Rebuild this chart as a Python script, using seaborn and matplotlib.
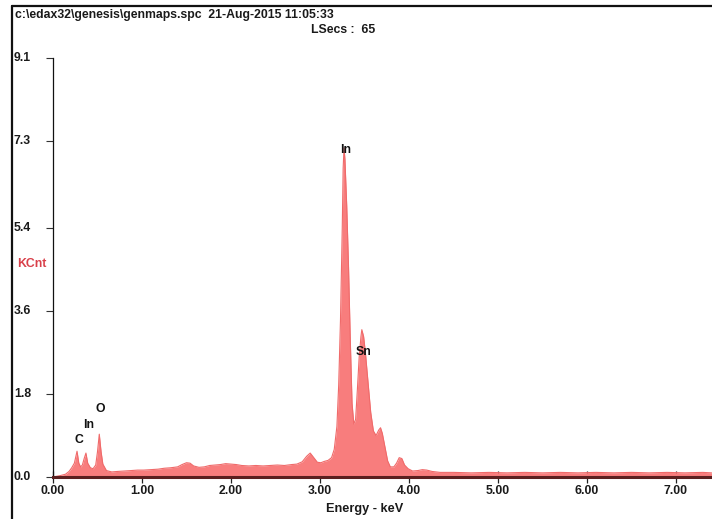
import matplotlib
matplotlib.use("Agg")
import matplotlib.pyplot as plt
import matplotlib.transforms as mtransforms
import seaborn as sns
import pandas as pd
from matplotlib.lines import Line2D

# ---- data ----
energy_kev = [0.00, 0.08, 0.14, 0.18, 0.21, 0.24, 0.27, 0.29, 0.31, 0.33, 0.35, 0.37, 0.39,
              0.42, 0.45, 0.48, 0.50, 0.52, 0.54, 0.56, 0.60, 0.66, 0.72, 0.80, 0.88, 0.95,
              1.02, 1.10, 1.18, 1.25, 1.32, 1.40, 1.45, 1.50, 1.54, 1.58, 1.64, 1.70, 1.76,
              1.82, 1.88, 1.94, 2.00, 2.06, 2.12, 2.20, 2.28, 2.36, 2.44, 2.52, 2.60, 2.68,
              2.74, 2.80, 2.85, 2.89, 2.93, 2.97, 3.01, 3.05, 3.09, 3.13, 3.16, 3.19, 3.21,
              3.23, 3.25, 3.26, 3.27, 3.28, 3.30, 3.32, 3.34, 3.36, 3.38, 3.40, 3.42, 3.44,
              3.46, 3.47, 3.49, 3.51, 3.54, 3.57, 3.60, 3.63, 3.66, 3.68, 3.70, 3.73, 3.76,
              3.79, 3.83, 3.86, 3.89, 3.92, 3.95, 3.99, 4.04, 4.10, 4.15, 4.20, 4.26, 4.35,
              4.50, 4.70, 4.90, 5.10, 5.30, 5.50, 5.70, 5.90, 6.10, 6.30, 6.50, 6.70, 6.90,
              7.10, 7.30, 7.40]
counts_kcnt = [0.00, 0.03, 0.06, 0.12, 0.20, 0.30, 0.56, 0.30, 0.22, 0.26, 0.40, 0.52, 0.30,
               0.20, 0.18, 0.26, 0.55, 0.93, 0.55, 0.28, 0.14, 0.11, 0.12, 0.13, 0.14, 0.15,
               0.15, 0.16, 0.17, 0.19, 0.20, 0.22, 0.27, 0.31, 0.30, 0.24, 0.21, 0.22, 0.25,
               0.26, 0.27, 0.29, 0.28, 0.27, 0.25, 0.24, 0.25, 0.24, 0.25, 0.26, 0.25, 0.27,
               0.28, 0.33, 0.45, 0.52, 0.42, 0.32, 0.31, 0.34, 0.36, 0.42, 0.60, 1.10, 2.00,
               3.40, 5.40, 6.70, 7.15, 6.90, 5.90, 4.60, 3.00, 1.60, 1.15, 1.25, 1.90, 2.60,
               3.05, 3.20, 3.05, 2.70, 2.05, 1.40, 1.00, 0.90, 1.02, 1.07, 0.95, 0.65, 0.35,
               0.22, 0.22, 0.30, 0.42, 0.40, 0.26, 0.18, 0.13, 0.14, 0.16, 0.15, 0.12, 0.10,
               0.10, 0.09, 0.10, 0.09, 0.10, 0.09, 0.10, 0.09, 0.10, 0.09, 0.10, 0.09, 0.10,
               0.09, 0.10, 0.09]
peak_labels = ["C", "In", "O", "In", "Sn"]
label_energy = [0.29, 0.40, 0.53, 3.29, 3.49]
label_height = [0.80, 1.13, 1.48, 7.10, 2.72]
y_ticks = [0.0, 1.8, 3.6, 5.4, 7.3, 9.1]
y_ticklabels = ["0.0", "1.8", "3.6", "5.4", "7.3", "9.1"]
x_ticks = [0, 1, 2, 3, 4, 5, 6, 7]
x_ticklabels = ["0.00", "1.00", "2.00", "3.00", "4.00", "5.00", "6.00", "7.00"]

df = pd.DataFrame({"Energy": energy_kev, "Counts": counts_kcnt})

sns.set_style("white")
plt.rcParams["font.family"] = ["Liberation Sans", "DejaVu Sans"]
plt.rcParams["font.weight"] = "bold"

FS = 8.8
TXT = "#1a1a1a"
W, H = 712, 519
fig = plt.figure(figsize=(W / 100, H / 100), dpi=100)
ax = fig.add_axes([53 / W, (H - 477) / H, (W - 53) / W, (477 - 58) / H])

fill_col = "#f87d7d"
ax.fill_between(df["Energy"], 0, df["Counts"], color=fill_col, linewidth=0, zorder=2)
sns.lineplot(data=df, x="Energy", y="Counts", ax=ax, color="#f06a6a", linewidth=0.8,
             zorder=3, estimator=None, sort=False)

ax.set_xlim(0, (W - 53) / 89.0)
ax.set_ylim(0, 9.1)

# y ticks: marks on the axis, labels placed at the left of the figure
ax.set_yticks(y_ticks)
ax.set_yticklabels([])
ax.tick_params(axis="y", direction="out", length=5, width=0.8, color="#333333", left=True)
ytrans = mtransforms.blended_transform_factory(fig.transFigure, ax.transData)
for v, lab in zip(y_ticks, y_ticklabels):
    fig.text(14 / W, v, lab, transform=ytrans, fontsize=FS, fontweight="bold",
             color=TXT, ha="left", va="center")

ax.set_xticks(x_ticks)
ax.set_xticklabels(x_ticklabels, fontsize=FS, fontweight="bold", color=TXT)
ax.tick_params(axis="x", direction="inout", length=8, width=0.9, color="#222222", pad=2,
               bottom=True)

for s in ["top", "right"]:
    ax.spines[s].set_visible(False)
ax.spines["left"].set_color("#111111")
ax.spines["left"].set_linewidth(0.9)
ax.spines["bottom"].set_color("#5c1f1f")
ax.spines["bottom"].set_linewidth(2.2)
ax.spines["bottom"].set_zorder(4)

ax.set_xlabel("Energy - keV", fontsize=FS + 0.4, fontweight="bold", color=TXT)
ax.xaxis.set_label_coords((365 - 53) / (W - 53), -0.062)
ax.set_ylabel("")

for lab, ex, ey in zip(peak_labels, label_energy, label_height):
    ax.text(ex, ey, lab, ha="center", va="center", fontsize=FS, fontweight="bold",
            color="#111111", zorder=5)

fig.text(15 / W, 1 - 15 / H, "c:\\edax32\\genesis\\genmaps.spc  21-Aug-2015 11:05:33",
         fontsize=FS, fontweight="bold", color=TXT, ha="left", va="center")
fig.text(343 / W, 1 - 30 / H, "LSecs :  65", fontsize=FS, fontweight="bold",
         color=TXT, ha="center", va="center")
fig.text(32 / W, 1 - 264 / H, "KCnt", fontsize=FS, fontweight="bold",
         color="#d9404a", ha="center", va="center")

# outer frame lines (left and top)
fig.add_artist(Line2D([12 / W, 12 / W], [0, 1 - 6 / H], transform=fig.transFigure,
                      color="#111111", linewidth=1.6))
fig.add_artist(Line2D([12 / W, 1], [1 - 6 / H, 1 - 6 / H], transform=fig.transFigure,
                      color="#111111", linewidth=1.6))

fig.savefig("out.png", dpi=100)
